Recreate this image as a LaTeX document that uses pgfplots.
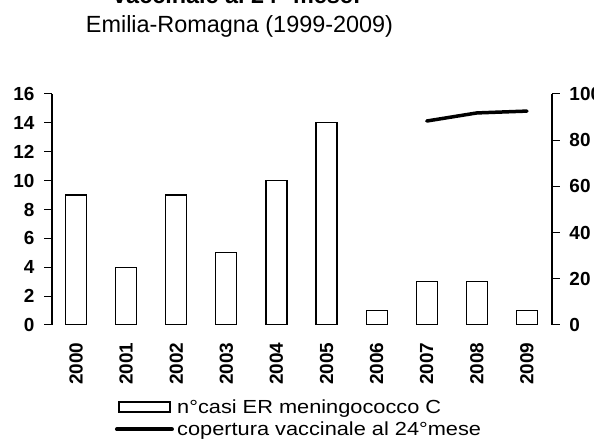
\documentclass[border=0pt]{standalone}
\usepackage{fontspec}
\setmainfont{Liberation Sans}
\newfontfamily\legfont{Liberation Sans}[FakeStretch=1.15]
\usepackage{pgfplots}
\pgfplotsset{compat=1.18}
\begin{document}
\begin{tikzpicture}[x=1bp,y=1bp]
\pgfplotsset{
  common/.style={
    at={(52bp,114bp)}, anchor=south west,
    scale only axis, width=500bp, height=231bp,
    xmin=1999.52, xmax=2009.5,
    tick align=outside, major tick length=8bp,
    tick style={black, line width=1bp},
    /pgf/number format/assume math mode=true,
    /pgf/number format/1000 sep={},
    yticklabel style={font=\fontsize{19}{19}\selectfont\bfseries},
    yticklabel shift=6bp,
    separate axis lines,
  }
}
\begin{axis}[common,
  ymin=0, ymax=16, ytick={0,2,...,16},
  axis x line*=bottom, axis y line*=left,
  x axis line style={draw=none},
  y axis line style={-, black, line width=1.2bp},
  xtick={2000,...,2009}, xtick style={draw=none},
  xticklabel style={font=\fontsize{19}{19}\selectfont\bfseries, yshift=-6bp, rotate=90, anchor=east},
  ybar, bar width=21bp,
]
\addplot[draw=black, fill=white, line width=1.2bp] coordinates {
(2000,9) (2001,4) (2002,9) (2003,5) (2004,10) (2005,14) (2006,1) (2007,3) (2008,3) (2009,1)};
\end{axis}
\begin{axis}[common,
  ymin=0, ymax=100, ytick={0,20,...,100},
  axis y line*=right, axis x line=none,
  y axis line style={-, black, line width=1.2bp},
  legend style={at={(0.122,-0.315)}, anchor=north west, draw=none, fill=none,
    font=\legfont\fontsize{19}{19}\selectfont, inner sep=0pt, row sep=4bp,
    nodes={inner sep=1.5bp}},
  legend cell align=left,
]
\addlegendimage{legend image code/.code={\draw[black,fill=white,line width=1.2bp] (4bp,-5bp) rectangle (55bp,5bp); \path (0bp,0) (59bp,0);}}
\addlegendentry{n°casi ER meningococco C}
\addplot[black, line width=3.5bp, line cap=round,
  legend image code/.code={\draw[black,line width=4bp,line cap=round] (2bp,0) -- (57bp,0); \path (0bp,0) (59bp,0);}]
  coordinates {(2007,88.3) (2008,91.8) (2009,92.6)};
\addlegendentry{copertura vaccinale al 24°mese}
\end{axis}
\node[font=\fontsize{23.5}{23.5}\selectfont, anchor=base] at (239.5,406) {Emilia-Romagna (1999-2009)};
\node[font=\fontsize{23.5}{23.5}\selectfont\bfseries, anchor=base] at (237,435) {vaccinale al 24° mese:};
\pgfresetboundingbox
\useasboundingbox (0,0) rectangle (594,439);
\end{tikzpicture}
\end{document}
